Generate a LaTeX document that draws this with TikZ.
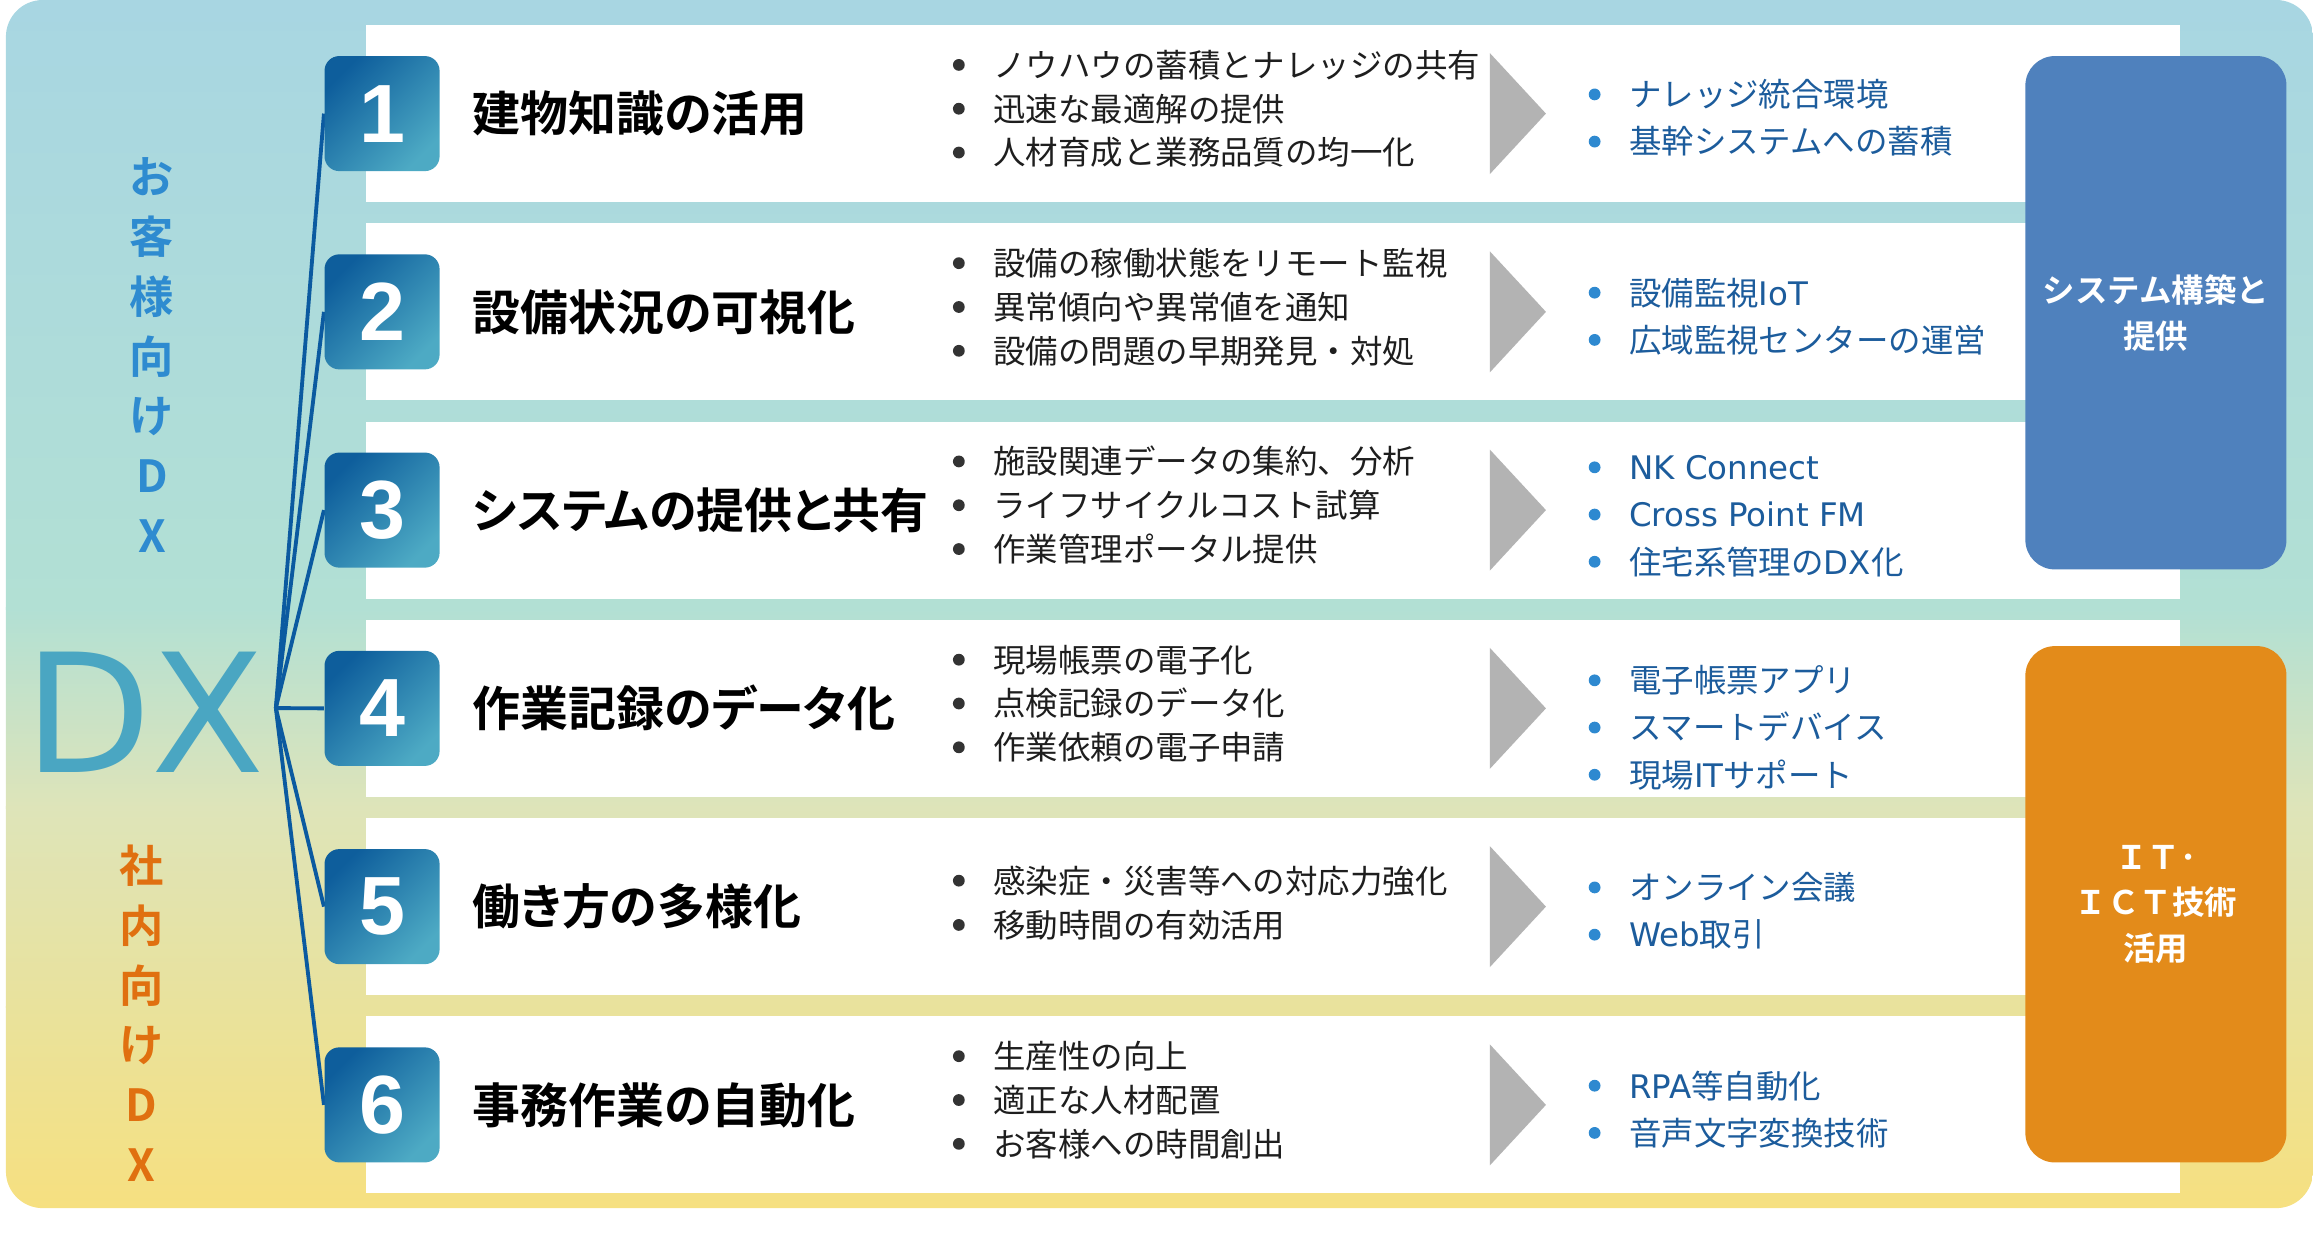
\documentclass[tikz,border=0pt]{standalone}
\usepackage{fontspec}
\newfontfamily\jp{Noto Sans CJK JP}
\newfontfamily\jpb{Noto Sans CJK JP Bold}
\newfontfamily\jpbp{Noto Sans CJK JP Bold}[RawFeature=+palt]
\newfontfamily\dv{DejaVu Sans}
\newfontfamily\lib{Liberation Sans}
\definecolor{bgA}{HTML}{A8D6E2}
\definecolor{bgB}{HTML}{B2E0D4}
\definecolor{bgC}{HTML}{DEE4B9}
\definecolor{bgD}{HTML}{E9E29C}
\definecolor{bgE}{HTML}{F6E080}
\definecolor{numA}{HTML}{0E5E9C}
\definecolor{numB}{HTML}{4DAAC4}
\definecolor{linkcol}{HTML}{0B5AA0}
\definecolor{textblack}{HTML}{1E1E1E}
\definecolor{dotgray}{HTML}{333333}
\definecolor{rtextcol}{HTML}{1C5C9C}
\definecolor{dotblue}{HTML}{2E89D0}
\definecolor{arrowgray}{HTML}{B3B3B3}
\definecolor{sysblue}{HTML}{4F81BD}
\definecolor{itorange}{HTML}{E38B1A}
\definecolor{custblue}{HTML}{2E8BD0}
\definecolor{inorange}{HTML}{E07010}
\definecolor{dxcol}{HTML}{4AA6C2}
\pgfdeclarelayer{bglayer}
\pgfdeclarelayer{midlayer}
\pgfsetlayers{bglayer,midlayer,main}
\newcommand\dxfont{\dv\fontsize{56}{56}\selectfont}
\newcommand\litem[3]{\fill[dotgray] (650,#2) circle (2pt); \node[ltxt] (#1) at (673,#2) {#3};}
\newcommand\ritem[3]{\fill[dotblue] (1081,#2) circle (2pt); \node[rtxt] (#1) at (1104,#2) {#3};}
\newcommand\garrow[1]{\fill[arrowgray] (1010,#1-41) -- (1048,#1) -- (1010,#1+41) -- cycle;}
\begin{document}
\begin{tikzpicture}[x=0.5pt,y=-0.5pt,
  panel/.style={fill=white,minimum width=615pt,minimum height=60pt,inner sep=0pt},
  numbox/.style={minimum width=39pt,minimum height=39pt,rounded corners=5pt,top color=numA,bottom color=numB,shading angle=45,text=white,font=\lib\bfseries\fontsize{28}{28}\selectfont,inner sep=0pt},
  ttl/.style={anchor=west,inner sep=0pt,text height=14.3pt,text depth=1.95pt,font=\jpbp\fontsize{16.25}{16.25}\selectfont,text=black},
  ltxt/.style={anchor=west,inner sep=0pt,text height=9.68pt,text depth=1.32pt,font=\jp\fontsize{11}{11}\selectfont,text=textblack},
  rtxt/.style={anchor=west,inner sep=0pt,text height=9.68pt,text depth=1.32pt,font=\jp\fontsize{11}{11}\selectfont,text=rtextcol},
  vtxt/.style={inner sep=0pt,text height=13.2pt,text depth=1.8pt,font=\jpb\fontsize{15}{15}\selectfont},
  sidebox/.style={rounded corners=10pt,minimum width=88.5pt,inner sep=0pt,text=white,align=center,font=\jpb\fontsize{11}{15.5}\selectfont},
  link/.style={draw=linkcol,line width=1.3pt}]
\useasboundingbox (0,0) rectangle (1568,836);
\begin{pgfonlayer}{bglayer}
\begin{scope}
\clip[rounded corners=12.5pt] (4,0) rectangle (1568,819);
\shade[top color=bgA,bottom color=bgB] (0,0) rectangle (1568,413);
\shade[top color=bgB,bottom color=bgC] (0,412) rectangle (1568,548);
\shade[top color=bgC,bottom color=bgD] (0,547) rectangle (1568,683);
\shade[top color=bgD,bottom color=bgE] (0,682) rectangle (1568,819);
\end{scope}
\node[panel] (p1) at (863,77) {};
\node[panel] (p2) at (863,211.4) {};
\node[panel] (p3) at (863,345.8) {};
\node[panel] (p4) at (863,480.2) {};
\node[panel] (p5) at (863,614.6) {};
\node[panel] (p6) at (863,749) {};
\end{pgfonlayer}
% left labels
\foreach \ch [count=\i from 0] in {お,客,様,向,け,D,X} {\node[vtxt,text=custblue] (cb\i) at (103,{120+40.5*\i}) {\ch};}
\foreach \ch [count=\i from 0] in {社,内,向,け,D,X} {\node[vtxt,text=inorange] (io\i) at (96,{587+40.5*\i}) {\ch};}
\node[anchor=base west,inner sep=0pt,font=\dxfont,text=dxcol] (dx) at (16,524) {DX};
\coordinate (hub) at (187,480);
% number boxes
\node[numbox] (n1) at (259,77) {1};
\node[numbox] (n2) at (259,211.4) {2};
\node[numbox] (n3) at (259,345.8) {3};
\node[numbox] (n4) at (259,480.2) {4};
\node[numbox] (n5) at (259,614.6) {5};
\node[numbox] (n6) at (259,749) {6};
\begin{pgfonlayer}{midlayer}
\foreach \k in {1,...,6} {\draw[link] (hub) -- (n\k.west);}
\end{pgfonlayer}
% titles
\node[ttl] (t1) at (320,77) {建物知識の活用};
\node[ttl] (t2) at (320,211.4) {設備状況の可視化};
\node[ttl] (t3) at (320,345.8) {システムの提供と共有};
\node[ttl] (t4) at (320,480.2) {作業記録のデータ化};
\node[ttl] (t5) at (320,614.6) {働き方の多様化};
\node[ttl] (t6) at (320,749) {事務作業の自動化};
% left bullets
\litem{a11}{44}{ノウハウの蓄積とナレッジの共有}
\litem{a12}{73.7}{迅速な最適解の提供}
\litem{a13}{103.4}{人材育成と業務品質の均一化}
\litem{a21}{178.4}{設備の稼働状態をリモート監視}
\litem{a22}{208.1}{異常傾向や異常値を通知}
\litem{a23}{237.8}{設備の問題の早期発見・対処}
\litem{a31}{312.8}{施設関連データの集約、分析}
\litem{a32}{342.5}{ライフサイクルコスト試算}
\litem{a33}{372.2}{作業管理ポータル提供}
\litem{a41}{447.2}{現場帳票の電子化}
\litem{a42}{476.9}{点検記録のデータ化}
\litem{a43}{506.6}{作業依頼の電子申請}
\litem{a51}{597}{感染症・災害等への対応力強化}
\litem{a52}{627}{移動時間の有効活用}
\litem{a61}{716}{生産性の向上}
\litem{a62}{745.7}{適正な人材配置}
\litem{a63}{775.4}{お客様への時間創出}
% arrows
\garrow{77}
\garrow{211.4}
\garrow{345.8}
\garrow{480.2}
\garrow{614.6}
\garrow{749}
% right bullets
\ritem{b11}{64}{ナレッジ統合環境}
\ritem{b12}{96}{基幹システムへの蓄積}
\ritem{b21}{198.4}{設備監視{\dv IoT}}
\ritem{b22}{230.4}{広域監視センターの運営}
\ritem{b31}{316.8}{{\dv NK Connect}}
\ritem{b32}{348.8}{{\dv Cross Point FM}}
\ritem{b33}{380.8}{住宅系管理の{\dv DX}化}
\ritem{b41}{461.2}{電子帳票アプリ}
\ritem{b42}{493.2}{スマートデバイス}
\ritem{b43}{525.2}{現場{\dv IT}サポート}
\ritem{b51}{601.6}{オンライン会議}
\ritem{b52}{633.6}{{\dv Web}取引}
\ritem{b61}{736}{{\dv RPA}等自動化}
\ritem{b62}{768}{音声文字変換技術}
% side boxes
\node[sidebox,fill=sysblue,minimum height=174pt] (sys) at (1461.5,212) {システム構築と\\提供};
\node[sidebox,fill=itorange,minimum height=175pt] (ict) at (1461.5,613) {ＩＴ･\\ＩＣＴ技術\\活用};
\end{tikzpicture}
\end{document}
